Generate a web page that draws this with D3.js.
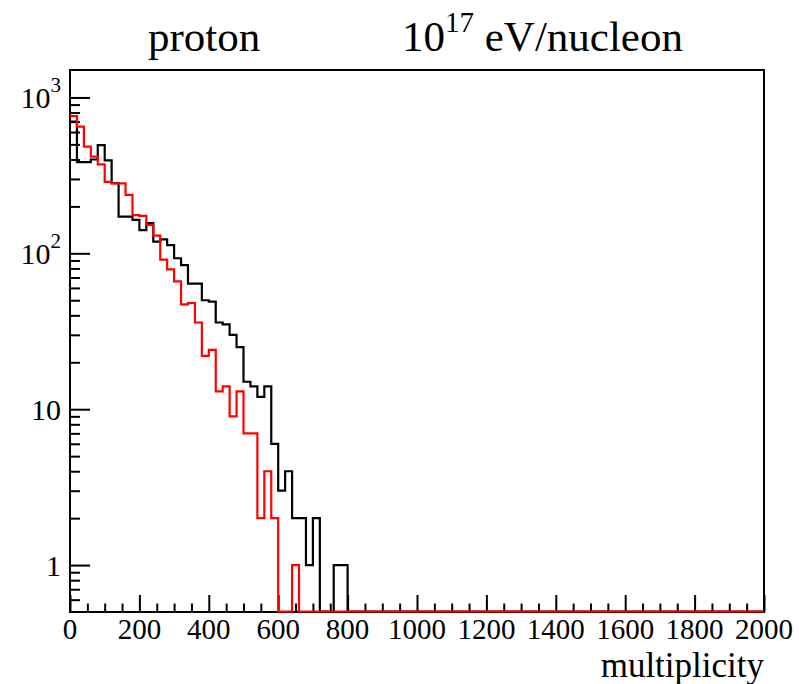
<!DOCTYPE html>
<html><head><meta charset="utf-8">
<script src="https://cdn.jsdelivr.net/npm/d3@7"></script>
<style>body{margin:0;background:#fff}svg{display:block}</style>
</head><body>
<svg id="c" width="799" height="684"></svg>
<script>
// ---- data ----
const binWidth = 20;
const xDomain = [0, 2000];
const yDomain = [0.5, 1500];
const blackCounts = [700, 385, 385, 400, 495, 395, 282, 172, 172, 164,
                     141, 156, 119, 123, 113, 93, 84, 64, 64, 50,
                     49, 36, 35, 30, 25, 15, 14, 12, 14, 6,
                     3, 4, 2, 2, 1, 2, 0, 0, 1, 1];
const redCounts = [760, 650, 483, 417, 372, 287, 281, 281, 237, 176,
                   174, 152, 130, 91, 79, 66, 47, 48, 36, 22,
                   24, 13, 14, 9, 13, 7, 7, 2, 4, 2,
                   0, 0, 1, 0];
const xMajorTicks = [0, 200, 400, 600, 800, 1000, 1200, 1400, 1600, 1800, 2000];
const xTickLabels = ["0", "200", "400", "600", "800", "1000", "1200", "1400", "1600", "1800", "2000"];
const yMajorTicks = [1, 10, 100, 1000];
const yTickBase = ["1", "10", "10", "10"];
const yTickExp = ["", "", "2", "3"];
const titleLeft = "proton";
const titleBase = "10";
const titleExp = "17";
const titleRest = " eV/nucleon";
const xAxisTitle = "multiplicity";

// ---- layout ----
const L = 70, R = 764, T = 70, B = 612;
const font = "'Liberation Serif','Times New Roman',serif";
const svg = d3.select("#c");
const x = d3.scaleLinear().domain(xDomain).range([L, R]);
const y = d3.scaleLog().domain(yDomain).range([B, T]);

// minor ticks
const xMinor = d3.range(xDomain[0], xDomain[1] + 1, 50).filter(v => v % 200 !== 0);
const yMinor = [];
[0.1, 1, 10, 100].forEach(d => { for (let k = 2; k <= 9; k++) { const v = d * k; if (v > yDomain[0] && v < yDomain[1] && !yMajorTicks.includes(v)) yMinor.push(v); } });

// axes via d3
const gxMaj = svg.append("g").attr("transform", `translate(0,${B})`)
  .call(d3.axisBottom(x).tickValues(xMajorTicks).tickSize(-17).tickFormat(""));
const gxMin = svg.append("g").attr("transform", `translate(0,${B})`)
  .call(d3.axisBottom(x).tickValues(xMinor).tickSize(-8.5).tickFormat(""));
const gyMaj = svg.append("g").attr("transform", `translate(${L},0)`)
  .call(d3.axisLeft(y).tickValues(yMajorTicks).tickSize(-20).tickFormat(""));
const gyMin = svg.append("g").attr("transform", `translate(${L},0)`)
  .call(d3.axisLeft(y).tickValues(yMinor).tickSize(-10).tickFormat(""));
[gxMaj, gxMin, gyMaj, gyMin].forEach(g => {
  g.select(".domain").remove();
  g.selectAll(".tick line").attr("stroke", "#000").attr("stroke-width", 2);
});

// histograms
function histPath(counts) {
  const p = d3.path();
  const yv = v => v > 0 ? y(Math.min(Math.max(v, yDomain[0]), yDomain[1])) : B - 0.5;
  p.moveTo(x(0), yv(counts[0]));
  counts.forEach((v, i) => {
    const yy = yv(v);
    if (i > 0) p.lineTo(x(i * binWidth), yy);
    p.lineTo(x((i + 1) * binWidth), yy);
  });
  const xe = x(counts.length * binWidth);
  p.lineTo(xe, B - 0.5);
  p.lineTo(x(xDomain[1]), B - 0.5);
  return p.toString();
}

// frame
svg.append("rect").attr("x", L).attr("y", T).attr("width", R - L).attr("height", B - T)
  .attr("fill", "none").attr("stroke", "#000").attr("stroke-width", 2);

svg.append("path").attr("d", histPath(blackCounts)).attr("fill", "none")
  .attr("stroke", "#000").attr("stroke-width", 2.2).attr("stroke-linejoin", "miter");
svg.append("path").attr("d", histPath(redCounts)).attr("fill", "none")
  .attr("stroke", "#ff0000").attr("stroke-width", 2.2).attr("stroke-linejoin", "miter");

// x tick labels
svg.append("g").selectAll("text").data(xMajorTicks).join("text")
  .attr("x", d => x(d)).attr("y", 639).attr("text-anchor", "middle")
  .attr("font-family", font).attr("font-size", 29).text((d, i) => xTickLabels[i]);

// y tick labels
const yl = svg.append("g").selectAll("text").data(yMajorTicks).join("text")
  .attr("x", 61).attr("y", d => y(d) + 11).attr("text-anchor", "end")
  .attr("font-family", font).attr("font-size", 30);
yl.append("tspan").text((d, i) => yTickBase[i]);
yl.filter((d, i) => yTickExp[i] !== "").append("tspan").attr("dy", -16).attr("font-size", 21)
  .text(d => yTickExp[yMajorTicks.indexOf(d)]);

// x axis title
svg.append("text").attr("x", R).attr("y", 677).attr("text-anchor", "end")
  .attr("font-family", font).attr("font-size", 35).text(xAxisTitle);

// titles
svg.append("text").attr("x", 148).attr("y", 51).attr("font-family", font).attr("font-size", 43).text(titleLeft);
const t2 = svg.append("text").attr("x", 402).attr("y", 51).attr("font-family", font).attr("font-size", 43);
t2.append("tspan").text(titleBase);
t2.append("tspan").attr("dy", -19).attr("font-size", 29).text(titleExp);
t2.append("tspan").attr("dy", 19).text(titleRest);
</script>
</body></html>
